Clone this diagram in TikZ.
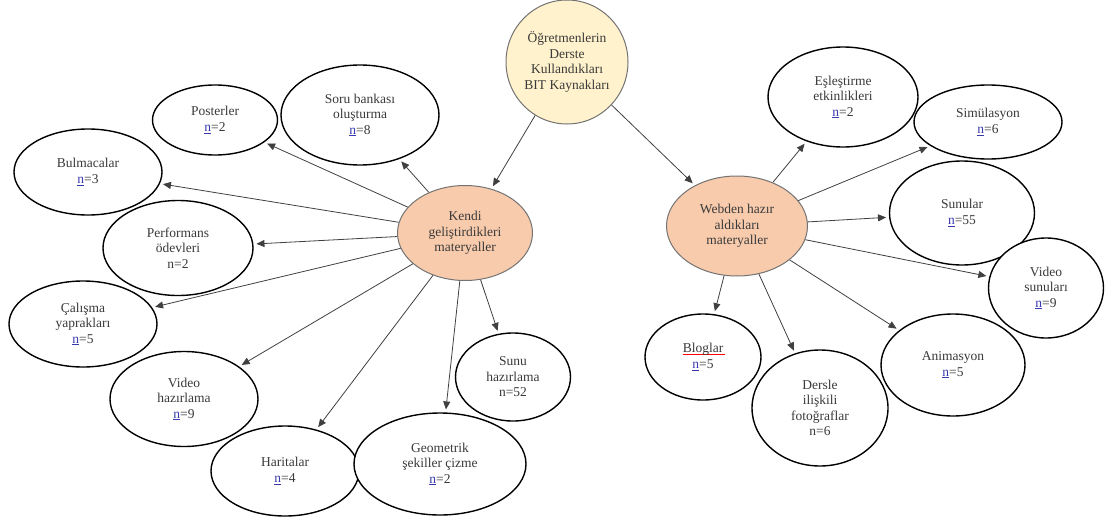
\documentclass[tikz,border=0pt]{standalone}
\usepackage{fontspec}
\setmainfont{Liberation Serif}
\usetikzlibrary{shapes.geometric,arrows.meta}
\definecolor{topfill}{HTML}{FFF2CC}
\definecolor{midfill}{HTML}{F8CBAD}
\definecolor{nblue}{HTML}{3A3AB0}
\definecolor{txt}{HTML}{3A3A3A}
\newcommand{\nval}[1]{\textcolor{nblue}{\underline{n}}=#1}

\begin{document}
\begin{tikzpicture}[x=1pt, y=-1pt,
  el/.style={ellipse, draw, line width=1.4pt, fill=white, inner sep=0pt, align=center,
    text=txt, font=\fontsize{13.5}{15.5}\selectfont},
  mid/.style={el, fill=midfill, draw=black!55, line width=1pt},
  arr/.style={-{Triangle[length=8pt,width=7pt]}, line width=0.8pt, black!75, shorten >=3pt}
]
  \useasboundingbox (0,0) rectangle (1105,519);
  % centre and two branches
  \node[el, fill=topfill, draw=black!55, line width=1pt, minimum width=122pt, minimum height=124pt] (top) at (567,62) {Öğretmenlerin\\Derste\\Kullandıkları\\BIT Kaynakları};
  \node[mid, minimum width=135pt, minimum height=95pt] (kendi) at (465,233) {Kendi\\geliştirdikleri\\materyaller};
  \node[mid, minimum width=141pt, minimum height=100pt] (web) at (737,226) {Webden hazır\\aldıkları\\materyaller};
  \draw[arr] (top) -- (kendi);
  \draw[arr] (top) -- (web);

  % own materials
  \node[el, minimum width=125pt, minimum height=70pt] (poster) at (215,120) {Posterler\\\nval{2}};
  \node[el, minimum width=158pt, minimum height=100pt] (soru) at (360,115) {Soru bankası\\oluşturma\\\nval{8}};
  \node[el, minimum width=148pt, minimum height=86pt] (bulmaca) at (88,172) {Bulmacalar\\\nval{3}};
  \node[el, minimum width=150pt, minimum height=95pt] (perf) at (178,248) {Performans\\ödevleri\\n=2};
  \node[el, minimum width=148pt, minimum height=86pt] (calisma) at (83,324) {Çalışma\\yaprakları\\\nval{5}};
  \node[el, minimum width=148pt, minimum height=95pt] (video) at (184,399) {Video\\hazırlama\\\nval{9}};
  \node[el, minimum width=148pt, minimum height=90pt] (harita) at (285,471) {Haritalar\\\nval{4}};
  \node[el, minimum width=172pt, minimum height=102pt] (geo) at (440,464) {Geometrik\\şekiller çizme\\\nval{2}};
  \node[el, minimum width=115pt, minimum height=88pt] (sunuh) at (513,377) {Sunu\\hazırlama\\n=52};
  \foreach \t in {poster,soru,bulmaca,perf,calisma,video,harita,geo,sunuh}{\draw[arr] (kendi) -- (\t);}

  % ready-made web materials
  \node[el, minimum width=150pt, minimum height=100pt] (esles) at (843,97) {Eşleştirme\\etkinlikleri\\\nval{2}};
  \node[el, minimum width=148pt, minimum height=74pt] (simul) at (988,122) {Simülasyon\\\nval{6}};
  \node[el, minimum width=145pt, minimum height=104pt] (sunular) at (962,213) {Sunular\\\nval{55}};
  \node[el, minimum width=115pt, minimum height=100pt] (vsunu) at (1046,288) {Video\\sunuları\\\nval{9}};
  \node[el, minimum width=116pt, minimum height=86pt] (blog) at (703,357) {\makebox[0pt][l]{\textcolor{red}{\rule[-2.5pt]{3.1em}{1pt}}}Bloglar\\\nval{5}};
  \node[el, minimum width=136pt, minimum height=116pt] (dersle) at (820,408) {Dersle\\ilişkili\\fotoğraflar\\n=6};
  \node[el, minimum width=144pt, minimum height=102pt] (anim) at (953,365) {Animasyon\\\nval{5}};
  \foreach \t in {esles,simul,sunular,vsunu,blog,dersle,anim}{\draw[arr] (web) -- (\t);}
\end{tikzpicture}
\end{document}
